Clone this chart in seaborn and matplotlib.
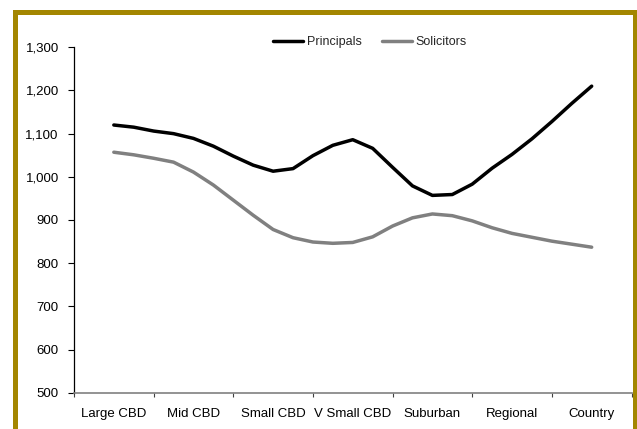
import numpy as np
import pandas as pd
import matplotlib
matplotlib.use("Agg")
import matplotlib.pyplot as plt
from matplotlib.patches import Rectangle
from matplotlib.ticker import FixedLocator, NullFormatter
import seaborn as sns

# Location categories along the x axis
categories = ["Large CBD", "Mid CBD", "Small CBD", "V Small CBD",
              "Suburban", "Regional", "Country"]

# Curves are sampled every quarter of a category step (0, 0.25, ... 6)
principals = [1120, 1115, 1106, 1100, 1089, 1071, 1048, 1027, 1013,
              1019, 1049, 1073, 1086, 1066, 1022, 979, 957, 959,
              983, 1020, 1052, 1088, 1128, 1170, 1210]
solicitors = [1057, 1051, 1043, 1034, 1011, 981, 946, 911, 878,
              859, 849, 846, 848, 861, 886, 905, 914, 910,
              898, 882, 869, 860, 851, 844, 837]

y_ticks = [500, 600, 700, 800, 900, 1000, 1100, 1200, 1300]

sample_pos = np.arange(len(principals)) / 4.0
df = pd.DataFrame({
    "pos": np.concatenate([sample_pos, sample_pos]),
    "value": principals + solicitors,
    "series": ["Principals"] * len(principals) + ["Solicitors"] * len(solicitors),
})

sns.set_style("white")
plt.rcParams["font.family"] = ["Liberation Sans", "DejaVu Sans"]

W, H, DPI = 637, 429, 100
fig = plt.figure(figsize=(W / DPI, H / DPI), dpi=DPI)
fig.patch.set_facecolor("white")
ax = fig.add_axes([74 / W, 1 - 392.7 / H, (631.5 - 74) / W, (392.7 - 47.3) / H])

sns.lineplot(data=df, x="pos", y="value", hue="series",
             palette={"Principals": "#000000", "Solicitors": "#808080"},
             linewidth=2.5, ax=ax, legend=True)
for line in ax.get_lines():
    line.set_solid_joinstyle("round")
    line.set_solid_capstyle("round")

ax.set_xlim(-0.5, len(categories) - 0.5)
ax.set_ylim(500, 1300)
ax.set_xlabel("")
ax.set_ylabel("")

# y axis
ax.set_yticks(y_ticks)
ax.set_yticklabels([f"{v:,}" for v in y_ticks], fontsize=9.5, color="black")
ax.tick_params(axis="y", direction="out", length=4, width=0.8, color="black", pad=7, left=True)

# x axis: tick marks between categories, labels centred on categories
ax.xaxis.set_major_locator(FixedLocator(np.arange(len(categories) + 1) - 0.5))
ax.xaxis.set_major_formatter(NullFormatter())
ax.xaxis.set_minor_locator(FixedLocator(np.arange(len(categories))))
ax.set_xticklabels(categories, minor=True, fontsize=9.5, color="black")
ax.tick_params(axis="x", which="major", direction="out", length=3, width=0.8, color="#404040", bottom=True)
ax.tick_params(axis="x", which="minor", length=0, pad=11)

for side in ["top", "right"]:
    ax.spines[side].set_visible(False)
ax.spines["left"].set_color("black")
ax.spines["left"].set_linewidth(0.9)
ax.spines["bottom"].set_color("#808080")
ax.spines["bottom"].set_linewidth(1.2)
ax.grid(False)

handles, labels = ax.get_legend_handles_labels()
ax.legend(handles, labels, loc="center", bbox_to_anchor=(370 / W, 1 - 42 / H),
          bbox_transform=fig.transFigure, ncol=2, frameon=False, fontsize=9,
          handlelength=2.4, handletextpad=0.3, columnspacing=1.6, borderpad=0)

# Gold frame around the chart
frame = Rectangle((14.7 / W, -0.05), (634.5 - 14.7) / W, (1 - 11.5 / H) + 0.05,
                  transform=fig.transFigure, fill=False, edgecolor="#A38600",
                  linewidth=5 * 72 / DPI, clip_on=False)
fig.patches.append(frame)

fig.savefig("out.png", dpi=DPI)
